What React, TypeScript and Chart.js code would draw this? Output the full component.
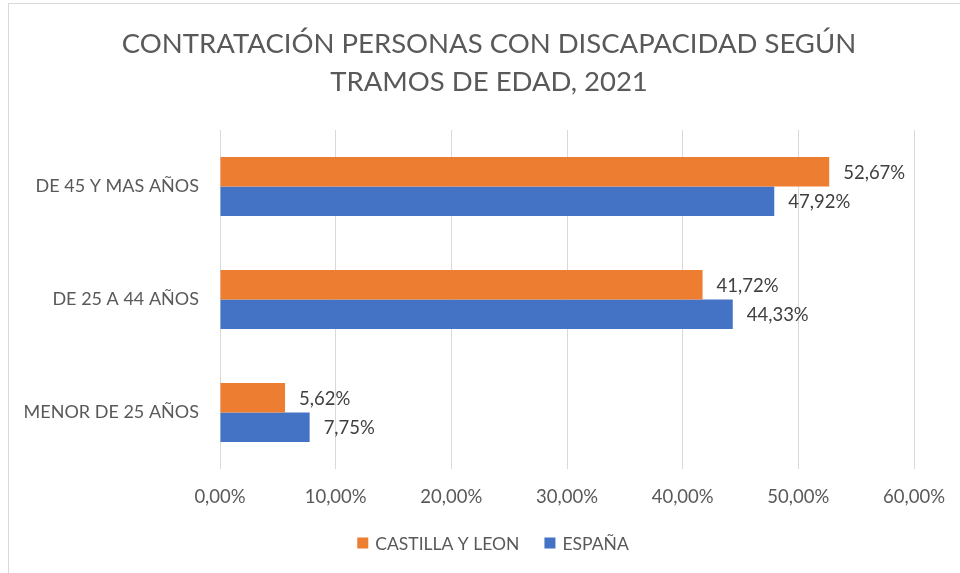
import React, { useEffect, useRef } from "react";
import { Chart, registerables } from "chart.js";

Chart.register(...registerables);

const categories = ["DE 45 Y MAS AÑOS", "DE 25 A 44 AÑOS", "MENOR DE 25 AÑOS"];
const castillaLeon = [52.67, 41.72, 5.62];
const espana = [47.92, 44.33, 7.75];
const seriesNames = ["CASTILLA Y LEON", "ESPAÑA"];
const titleLines = ["CONTRATACIÓN PERSONAS CON DISCAPACIDAD SEGÚN", "TRAMOS DE EDAD, 2021"];

const FONT = "Lato";
const ORANGE = "#ED7D31";
const BLUE = "#4472C4";
const TEXT = "#595959";

const fmt = (v: number) => v.toFixed(2).replace(".", ",") + "%";

const overlayPlugin = {
  id: "overlay",
  afterDatasetsDraw(chart: any) {
    const ctx = chart.ctx;
    ctx.save();
    ctx.font = `18.5px ${FONT}`;
    ctx.fillStyle = "#404040";
    ctx.textAlign = "left";
    ctx.textBaseline = "middle";
    chart.data.datasets.forEach((ds: any, di: number) => {
      const meta = chart.getDatasetMeta(di);
      meta.data.forEach((bar: any, i: number) => {
        ctx.fillText(fmt(ds.data[i]), bar.x + 14, bar.y + 1);
      });
    });
    ctx.restore();
  },
  afterDraw(chart: any) {
    const ctx = chart.ctx;
    const cx = chart.width / 2;
    ctx.save();
    ctx.fillStyle = TEXT;
    ctx.textAlign = "center";
    ctx.textBaseline = "alphabetic";
    ctx.font = `27.5px ${FONT}`;
    ctx.fillText(titleLines[0], cx, 50);
    ctx.fillText(titleLines[1], cx, 88);

    // legend
    ctx.font = `17.5px ${FONT}`;
    ctx.textAlign = "left";
    const colors = [ORANGE, BLUE];
    const box = 11;
    const gapBoxText = 7;
    const gapItems = 25;
    const widths = seriesNames.map((n) => ctx.measureText(n).width);
    const total = widths.reduce((a, w) => a + box + gapBoxText + w, 0) + gapItems;
    let x = cx - total / 2 + 4;
    const y = 540;
    seriesNames.forEach((n, i) => {
      ctx.fillStyle = colors[i];
      ctx.fillRect(x, y - box / 2, box, box);
      ctx.fillStyle = TEXT;
      ctx.textBaseline = "middle";
      ctx.fillText(n, x + box + gapBoxText, y + 1);
      x += box + gapBoxText + widths[i] + gapItems;
    });
    ctx.restore();
  },
};

export default function App() {
  const ref = useRef<HTMLCanvasElement>(null);
  useEffect(() => {
    if (!ref.current) return;
    const chart = new Chart(ref.current, {
      type: "bar",
      data: {
        labels: categories,
        datasets: [
          { label: seriesNames[0], data: castillaLeon, backgroundColor: ORANGE, categoryPercentage: 0.52, barPercentage: 1 },
          { label: seriesNames[1], data: espana, backgroundColor: BLUE, categoryPercentage: 0.52, barPercentage: 1 },
        ],
      },
      options: {
        indexAxis: "y",
        animation: false,
        responsive: false,
        maintainAspectRatio: false,
        layout: { padding: { left: 0, right: 56, top: 127, bottom: 69 } },
        plugins: {
          legend: { display: false },
          title: { display: false },
          tooltip: { enabled: false },
        },
        scales: {
          x: {
            min: 0,
            max: 60,
            ticks: {
              stepSize: 10,
              callback: (v: any) => fmt(Number(v)),
              color: TEXT,
              font: { family: FONT, size: 18.5 },
              padding: 17,
            },
            grid: { color: "#d9d9d9", drawTicks: false, lineWidth: 1 },
            border: { display: false },
            afterFit: (s: any) => { s.height = 40; },
          },
          y: {
            ticks: {
              color: TEXT,
              font: { family: FONT, size: 18 },
              padding: 21,
            },
            grid: { display: false, drawTicks: false },
            border: { display: false },
            afterFit: (s: any) => { s.width = 212; },
          },
        },
      },
      plugins: [overlayPlugin],
    });
    return () => chart.destroy();
  }, []);
  return (
    <div style={{ position: "fixed", left: 0, top: 0, width: 960, height: 573, overflow: "hidden", background: "#fff" }}>
      <div style={{ position: "absolute", left: 8, top: 3, width: 970, height: 590, border: "1px solid #d9d9d9", boxSizing: "border-box" }} />
      <canvas ref={ref} width={962} height={575} style={{ position: "absolute", left: 8, top: 3, width: 962, height: 575 }} />
    </div>
  );
}
